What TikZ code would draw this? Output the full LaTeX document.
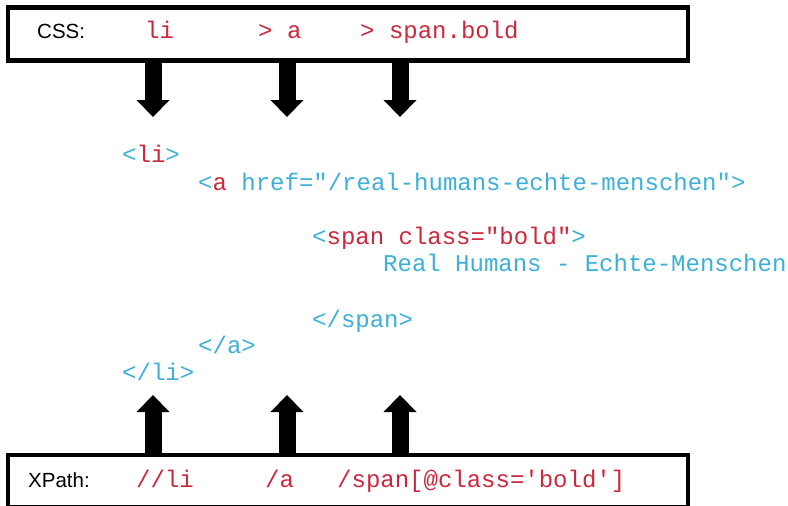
\documentclass[tikz,border=0pt]{standalone}
\usepackage{fontspec}
\setmainfont{Liberation Sans}
\setsansfont{Liberation Sans}
\setmonofont{Liberation Mono}
\usetikzlibrary{arrows.meta}
\definecolor{tagred}{RGB}{204,40,60}
\definecolor{tagblue}{RGB}{60,176,216}
\newcommand{\rd}[1]{\textcolor{tagred}{#1}}
\newcommand{\bl}[1]{\textcolor{tagblue}{#1}}
\begin{document}
\begin{tikzpicture}[x=1pt,y=-1pt,
  selbox/.style={draw=black,line width=4.5pt,minimum width=680pt,inner sep=0pt},
  lbl/.style={anchor=base west,inner sep=0pt,font=\sffamily\fontsize{20.5}{24}\selectfont},
  code/.style={anchor=base west,inner sep=0pt,font=\ttfamily\fontsize{24}{28}\selectfont},
  fatarrow/.style={line width=17pt,-{Triangle[width=33pt,length=17pt,line width=0pt]}}]
\useasboundingbox (0,0) rectangle (788,506);
\clip (0,0) rectangle (788,506);

% selector boxes
\node[selbox,minimum height=53pt] (css) at (348,34) {};
\node[selbox,minimum height=52pt] (xp) at (348,481) {};

% CSS selector
\node[lbl] (csslbl) at (37,38.5) {CSS:};
\node[code,text=tagred] (cli) at (145,38.5) {li};
\node[code,text=tagred] (ca) at (258,38.5) {> a};
\node[code,text=tagred] (cspan) at (360,38.5) {> span.bold};

% XPath expression
\node[lbl] (xplbl) at (28,487.5) {XPath:};
\node[code,text=tagred] (xli) at (136,487.5) {//li};
\node[code,text=tagred] (xa) at (265,487.5) {/a};
\node[code,text=tagred] (xspan) at (337,487.5) {/span[@class='bold']};

% HTML fragment
\node[code] (h1) at (122,162) {\bl{<}\rd{li}\bl{>}};
\node[code] (h2) at (198,190) {\bl{<}\rd{a}\bl{\ href="/real-humans-echte-menschen">}};
\node[code] (h3) at (312,244) {\bl{<}\rd{span class="bold"}\bl{>}};
\node[code,text=tagblue] (h4) at (383,271) {Real Humans - Echte-Menschen};
\node[code,text=tagblue] (h5) at (312,327) {</span>};
\node[code,text=tagblue] (h6) at (198,353) {</a>};
\node[code,text=tagblue] (h7) at (122,380) {</li>};

% arrows from the CSS box down to the markup
\coordinate (d1) at (153,117);
\coordinate (d2) at (287,117);
\coordinate (d3) at (400,117);
\draw[fatarrow] (d1 |- css.south) -- (d1);
\draw[fatarrow] (d2 |- css.south) -- (d2);
\draw[fatarrow] (d3 |- css.south) -- (d3);

% arrows from the XPath box up to the markup
\coordinate (u1) at (153,395);
\coordinate (u2) at (287,395);
\coordinate (u3) at (400,395);
\draw[fatarrow] (u1 |- xp.north) -- (u1);
\draw[fatarrow] (u2 |- xp.north) -- (u2);
\draw[fatarrow] (u3 |- xp.north) -- (u3);
\end{tikzpicture}
\end{document}
